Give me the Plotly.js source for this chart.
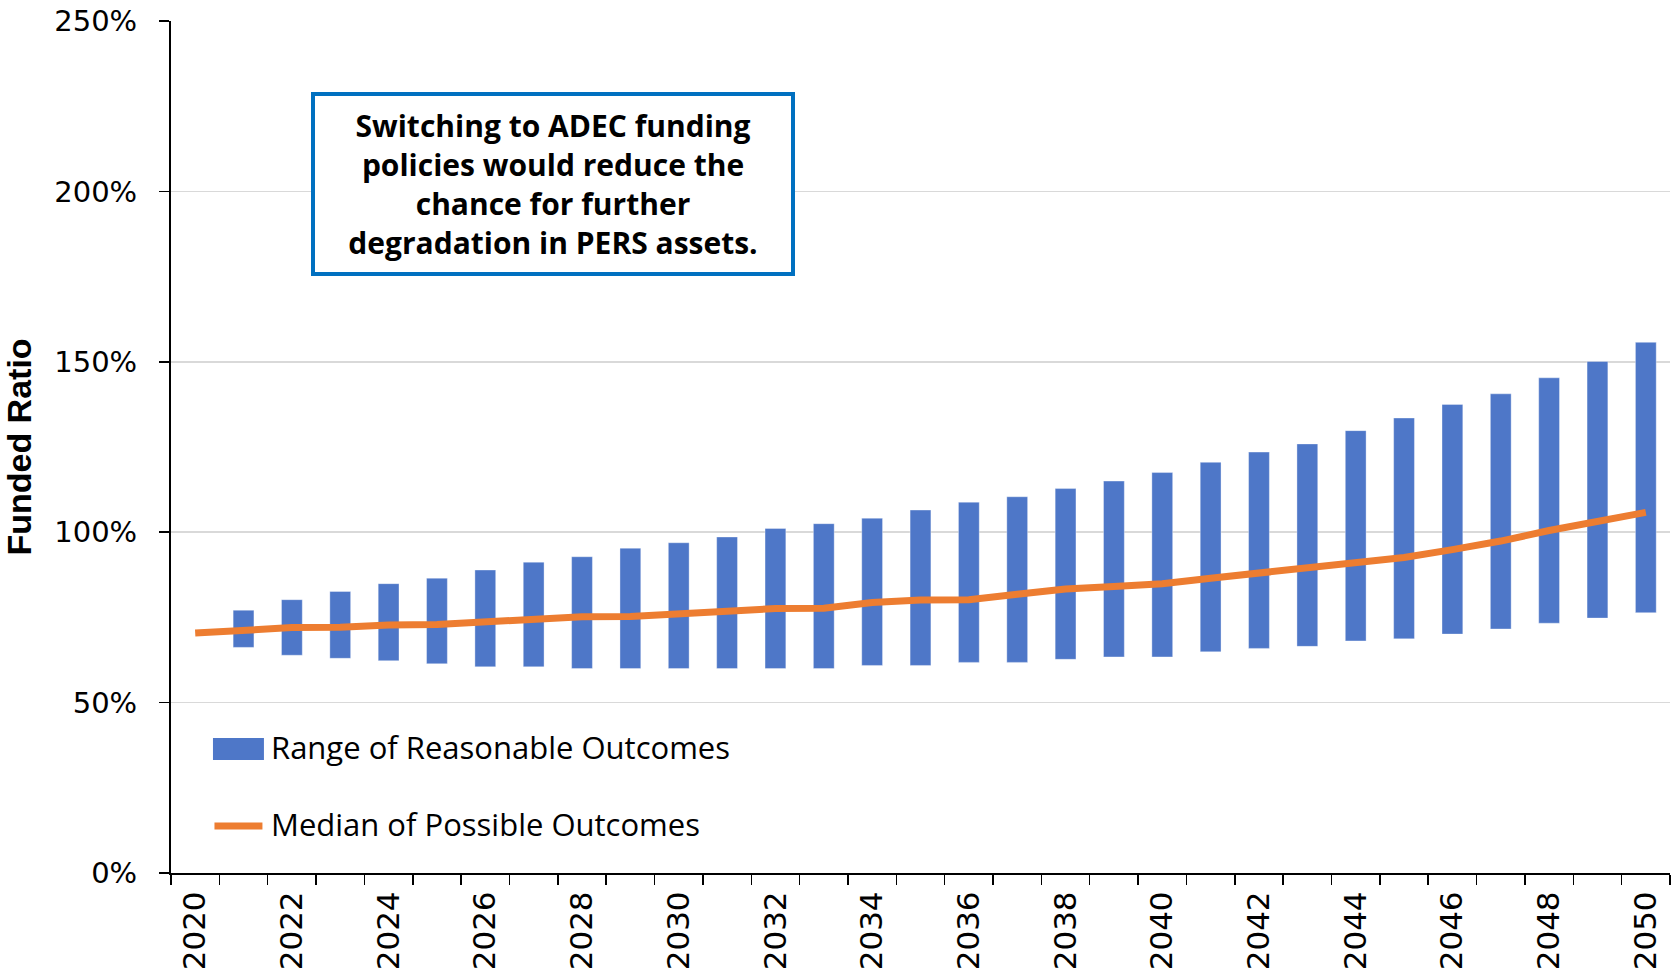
<!DOCTYPE html>
<html>
<head>
<meta charset="utf-8">
<script src="https://cdn.plot.ly/plotly-3.0.1.min.js"></script>
<style>html,body{margin:0;padding:0;background:#fff;}#chart{width:1676px;height:974px;}</style>
</head>
<body>
<div id="chart"></div>
<script>
// Data (funded ratio, %)
const medianYears = [2020,2021,2022,2023,2024,2025,2026,2027,2028,2029,2030,2031,2032,2033,2034,2035,2036,2037,2038,2039,2040,2041,2042,2043,2044,2045,2046,2047,2048,2049,2050];
const medianValues = [70.4,71.2,72.0,72.1,72.8,72.9,73.6,74.4,75.2,75.3,76.2,76.9,77.6,77.7,79.4,80.1,80.2,81.8,83.3,84.1,84.9,86.5,87.9,89.4,91.0,92.6,94.9,97.4,100.5,103.2,105.8];
const rangeYears = [2021,2022,2023,2024,2025,2026,2027,2028,2029,2030,2031,2032,2033,2034,2035,2036,2037,2038,2039,2040,2041,2042,2043,2044,2045,2046,2047,2048,2049,2050];
const rangeHigh = [77.1,80.2,82.6,84.9,86.5,88.9,91.2,92.8,95.3,96.9,98.6,101.1,102.5,104.1,106.5,108.8,110.4,112.8,115.0,117.5,120.5,123.5,125.9,129.8,133.5,137.5,140.6,145.3,150.1,155.7];
const rangeLow = [66.2,63.9,63.0,62.3,61.4,60.5,60.5,60.0,60.0,60.0,60.0,60.0,60.0,60.9,60.9,61.8,61.8,62.7,63.4,63.4,64.9,65.9,66.5,68.1,68.7,70.1,71.6,73.3,74.8,76.4];
const yTickVals = [0,50,100,150,200,250];
const yTickText = ['0%','50%','100%','150%','200%','250%'];
const xTickVals = [2020,2022,2024,2026,2028,2030,2032,2034,2036,2038,2040,2042,2044,2046,2048,2050];
const xTickText = xTickVals.map(String);
const seriesNames = ['Range of Reasonable Outcomes','Median of Possible Outcomes'];
const calloutText = 'Switching to ADEC funding<br>policies would reduce the<br>chance for further<br>degradation in PERS assets.';

const barColor = '#4e77c8';
const lineColor = '#ed7d31';

const traces = [
  {
    type: 'bar',
    name: seriesNames[0],
    x: rangeYears,
    base: rangeLow,
    y: rangeHigh.map((h, i) => h - rangeLow[i]),
    width: 0.43,
    marker: {color: barColor, line: {color: 'rgba(255,255,255,0.35)', width: 1}},
    hoverinfo: 'skip',
    showlegend: false
  },
  {
    type: 'scatter',
    mode: 'lines',
    name: seriesNames[1],
    x: medianYears,
    y: medianValues,
    line: {color: lineColor, width: 7},
    hoverinfo: 'skip',
    showlegend: false
  }
];

const layout = {
  width: 1676,
  height: 974,
  margin: {l: 171, r: 6, t: 21, b: 101},
  paper_bgcolor: '#ffffff',
  plot_bgcolor: '#ffffff',
  showlegend: false,
  font: {family: 'DejaVu Sans, sans-serif', color: '#000'},
  xaxis: {
    range: [2019.5, 2050.5],
    tickmode: 'array',
    tickvals: xTickVals,
    ticktext: xTickText,
    tickangle: -90,
    ticks: '',
    tickfont: {family: 'DejaVu Sans, sans-serif', size: 31, color: '#000'},
    ticklabelstandoff: 4,
    showgrid: false,
    zeroline: false,
    showline: true,
    linecolor: '#000',
    linewidth: 2,
    minor: {tick0: 2019.5, dtick: 1, ticks: 'outside', ticklen: 10, tickwidth: 1.5, tickcolor: '#000', showgrid: false}
  },
  yaxis: {
    range: [0, 250],
    tickmode: 'array',
    tickvals: yTickVals,
    ticktext: yTickText,
    ticks: 'outside',
    ticklen: 10,
    tickwidth: 1.5,
    tickcolor: '#000',
    tickfont: {family: 'DejaVu Sans, sans-serif', size: 29, color: '#000'},
    ticklabelstandoff: 16,
    showgrid: true,
    gridcolor: '#d9d9d9',
    gridwidth: 1.5,
    zeroline: false,
    showline: true,
    linecolor: '#000',
    linewidth: 2,
    title: {
      text: '<b>Funded Ratio</b>',
      font: {family: 'Liberation Sans Narrow, Liberation Sans, sans-serif', size: 34, color: '#000'},
      standoff: 16
    }
  },
  annotations: [
    {
      xref: 'paper', yref: 'paper',
      x: 0.255, y: 0.8087,
      xanchor: 'center', yanchor: 'middle',
      text: '<b>' + calloutText + '</b>',
      showarrow: false,
      align: 'center',
      font: {family: 'Open Sans, sans-serif', size: 30, color: '#000'},
      bgcolor: '#ffffff',
      bordercolor: '#0070c0',
      borderwidth: 4,
      borderpad: 4,
      width: 468,
      height: 168
    },
    {
      xref: 'paper', yref: 'paper',
      x: 0.0654, y: 0.1479,
      xanchor: 'left', yanchor: 'middle',
      text: seriesNames[0],
      showarrow: false,
      font: {family: 'Open Sans, sans-serif', size: 31, color: '#000'}
    },
    {
      xref: 'paper', yref: 'paper',
      x: 0.0654, y: 0.0575,
      xanchor: 'left', yanchor: 'middle',
      text: seriesNames[1],
      showarrow: false,
      font: {family: 'Open Sans, sans-serif', size: 31, color: '#000'}
    }
  ],
  shapes: [
    {
      type: 'rect', xref: 'paper', yref: 'paper',
      x0: 0.028, x1: 0.062, y0: 0.1326, y1: 0.1585,
      fillcolor: barColor, line: {width: 0}
    },
    {
      type: 'line', xref: 'paper', yref: 'paper',
      x0: 0.029, x1: 0.061, y0: 0.0552, y1: 0.0552,
      line: {color: lineColor, width: 7}
    }
  ]
};

Plotly.newPlot('chart', traces, layout, {displayModeBar: false, staticPlot: true});
</script>
</body>
</html>
